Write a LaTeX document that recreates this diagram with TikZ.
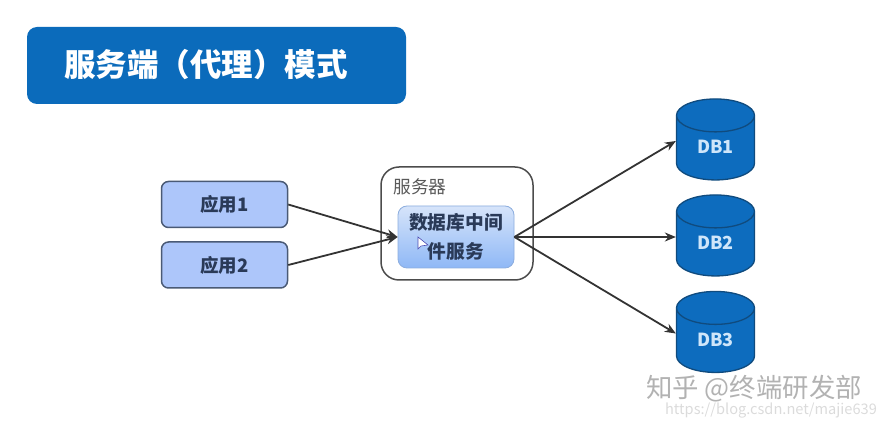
\documentclass[tikz,border=0pt]{standalone}
\usepackage{fontspec}
\setmainfont{Noto Sans CJK SC}
\usetikzlibrary{arrows.meta,shapes.geometric}
\definecolor{titleblue}{HTML}{0B6BBB}
\definecolor{appblue}{HTML}{ADC6FA}
\definecolor{appline}{HTML}{4A5A75}
\definecolor{dbblue}{HTML}{0D6CBE}
\definecolor{dbline}{HTML}{104B7E}
\definecolor{dbtext}{HTML}{CFE6FA}
\definecolor{inktext}{HTML}{2A3A58}
\definecolor{midtop}{HTML}{D6E4FA}
\definecolor{midbottom}{HTML}{8FB8F6}
\tikzset{
	appbox/.style={draw=appline, line width=1.5pt, fill=appblue, rounded corners=7pt, minimum width=126pt, minimum height=46pt, inner sep=0pt, font=\fontsize{18.5}{22}\selectfont\bfseries, text=inktext},
	dbcyl/.style={cylinder, shape border rotate=90, aspect=0.9, draw=dbline, line width=1.3pt, fill=dbblue, minimum width=78pt, minimum height=81pt, inner sep=0pt, font=\fontsize{18}{22}\selectfont\bfseries, text=dbtext},
	link/.style={-{Stealth[length=11pt,width=9pt]}, line width=1.8pt, draw=black!80},
}
\begin{document}
\begin{tikzpicture}[x=1pt, y=-1pt]
	\useasboundingbox (0,0) rectangle (886,427);

	\node[fill=titleblue, rounded corners=10pt, minimum width=379pt, minimum height=77pt, inner sep=0pt] (titlebox) at (216.5,65.5) {};
	\node[text=white, font=\fontsize{31.5}{36}\selectfont\bfseries, inner sep=0pt] (titletext) at (206,65) {服务端（代理）模式};

	\node[appbox] (app1) at (224.5,204.5) {应用1};
	\node[appbox] (app2) at (224.5,265) {应用2};

	\node[draw=black!70, line width=1.5pt, fill=white, rounded corners=18pt, minimum width=152pt, minimum height=113pt, inner sep=0pt] (server) at (457,223.5) {};
	\node[text=black!65, font=\fontsize{17.7}{20}\selectfont, inner sep=0pt] (serverlabel) at (420,187) {服务器};
	\node[draw=midbottom!80!gray, line width=0.8pt, top color=midtop, bottom color=midbottom, rounded corners=9pt, minimum width=116pt, minimum height=62pt, inner sep=0pt, align=center, text=inktext, font=\fontsize{18.7}{29}\selectfont\bfseries] (middleware) at (456,237) {数据库中间\\件服务};

	\node[dbcyl] (db1) at (715.5,148) {\raisebox{2pt}{DB1}};
	\node[dbcyl] (db2) at (715.5,244) {\raisebox{2pt}{DB2}};
	\node[dbcyl] (db3) at (715.5,340.5) {\raisebox{2pt}{DB3}};

	\draw[link] (app1.east) -- (middleware.west);
	\draw[link] (app2.east) -- (middleware.west);
	\draw[link] (middleware.east) -- ([yshift=7pt]db1.west);
	\draw[link] (middleware.east) -- ([yshift=7pt]db2.west);
	\draw[link] (middleware.east) -- ([yshift=7pt]db3.west);

	\draw[fill=white, draw=blue!40!gray, line width=0.6pt] (418,237) -- (418,249) -- (421,246) -- (428,245) -- cycle;

	\node[text=black!30, font=\fontsize{26.4}{30}\selectfont, inner sep=0pt] (markone) at (754,389) {知乎 @终端研发部};
	\node[text=black!14, font=\fontsize{14.6}{17}\selectfont, inner sep=0pt] (marktwo) at (771,411) {https://blog.csdn.net/majie639};
\end{tikzpicture}
\end{document}
